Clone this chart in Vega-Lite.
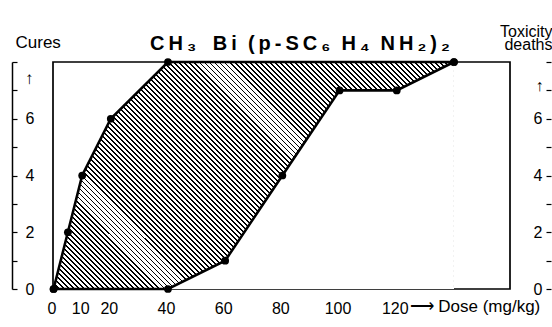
{
"$schema": "https://vega.github.io/schema/vega-lite/v6.json",
"width": 457, "height": 227, "autosize": "none",
"padding": {"left": 53, "top": 62, "right": 42, "bottom": 38},
"background": "white",
"title": {"text": "C\u2009H\u2009\u2083\u00a0\u00a0\u00a0B\u2009i\u00a0\u00a0(\u2009p\u2009-\u2009S\u2009C\u2009\u2086\u00a0\u00a0H\u2009\u2084\u00a0\u00a0N\u2009H\u2009\u2082\u2009)\u2009\u2082", "anchor": "start", "frame": "group", "dx": 97, "dy": 41, "fontSize": 20, "fontWeight": "bold", "font": "Liberation Sans", "color": "black", "offset": 10},
"datasets": {
 "cures": [{"dose": 0, "v": 0}, {"dose": 5, "v": 2}, {"dose": 10, "v": 4}, {"dose": 20, "v": 6}, {"dose": 40, "v": 8}, {"dose": 140, "v": 8}],
 "tox": [{"dose": 0, "v": 0}, {"dose": 40, "v": 0}, {"dose": 60, "v": 1}, {"dose": 80, "v": 4}, {"dose": 100, "v": 7}, {"dose": 120, "v": 7}, {"dose": 140, "v": 8}]
},
"encoding": {"x": {"field": "dose", "type": "quantitative", "scale": {"domain": [-0.2, 159.6], "nice": false, "zero": false},
 "axis": {"values": [0, 10, 20, 40, 60, 80, 100, 120], "ticks": false, "domain": false, "grid": false, "labelPadding": 11, "labelOffset": -2, "labelFontSize": 16, "labelFlush": false, "labelOverlap": false, "labelColor": "black",
  "title": "\u27f6\u00a0Dose (mg/kg)", "titleX": 356, "titleY": 17, "titleAlign": "left", "titleBaseline": "middle", "titleFontSize": 17, "titleFontWeight": "normal", "titleColor": "black"}}},
"layer": [
 {"data": {"name": "cures"},
  "mark": {"type": "area", "fill": {"gradient": "linear", "x1": 0, "y1": 1, "x2": 1.1859, "y2": 0.3276, "stops": [
{"offset":0,"color":"#000"},{"offset":0.003,"color":"#000"},{"offset":0.003,"color":"#fff"},{"offset":0.008,"color":"#fff"},
{"offset":0.008,"color":"#000"},{"offset":0.011,"color":"#000"},{"offset":0.011,"color":"#fff"},{"offset":0.016,"color":"#fff"},
{"offset":0.016,"color":"#000"},{"offset":0.019,"color":"#000"},{"offset":0.019,"color":"#fff"},{"offset":0.024,"color":"#fff"},
{"offset":0.024,"color":"#000"},{"offset":0.027,"color":"#000"},{"offset":0.027,"color":"#fff"},{"offset":0.032,"color":"#fff"},
{"offset":0.032,"color":"#000"},{"offset":0.035,"color":"#000"},{"offset":0.035,"color":"#fff"},{"offset":0.04,"color":"#fff"},
{"offset":0.04,"color":"#000"},{"offset":0.043,"color":"#000"},{"offset":0.043,"color":"#fff"},{"offset":0.048,"color":"#fff"},
{"offset":0.048,"color":"#000"},{"offset":0.051,"color":"#000"},{"offset":0.051,"color":"#fff"},{"offset":0.056,"color":"#fff"},
{"offset":0.056,"color":"#000"},{"offset":0.059,"color":"#000"},{"offset":0.059,"color":"#fff"},{"offset":0.064,"color":"#fff"},
{"offset":0.064,"color":"#000"},{"offset":0.067,"color":"#000"},{"offset":0.067,"color":"#fff"},{"offset":0.072,"color":"#fff"},
{"offset":0.072,"color":"#000"},{"offset":0.075,"color":"#000"},{"offset":0.075,"color":"#fff"},{"offset":0.08,"color":"#fff"},
{"offset":0.08,"color":"#000"},{"offset":0.083,"color":"#000"},{"offset":0.083,"color":"#fff"},{"offset":0.088,"color":"#fff"},
{"offset":0.088,"color":"#000"},{"offset":0.091,"color":"#000"},{"offset":0.091,"color":"#fff"},{"offset":0.096,"color":"#fff"},
{"offset":0.096,"color":"#000"},{"offset":0.099,"color":"#000"},{"offset":0.099,"color":"#fff"},{"offset":0.104,"color":"#fff"},
{"offset":0.104,"color":"#000"},{"offset":0.107,"color":"#000"},{"offset":0.107,"color":"#fff"},{"offset":0.112,"color":"#fff"},
{"offset":0.112,"color":"#000"},{"offset":0.115,"color":"#000"},{"offset":0.115,"color":"#fff"},{"offset":0.12,"color":"#fff"},
{"offset":0.12,"color":"#000"},{"offset":0.123,"color":"#000"},{"offset":0.123,"color":"#fff"},{"offset":0.128,"color":"#fff"},
{"offset":0.128,"color":"#000"},{"offset":0.131,"color":"#000"},{"offset":0.131,"color":"#fff"},{"offset":0.136,"color":"#fff"},
{"offset":0.136,"color":"#000"},{"offset":0.139,"color":"#000"},{"offset":0.139,"color":"#fff"},{"offset":0.144,"color":"#fff"},
{"offset":0.144,"color":"#000"},{"offset":0.147,"color":"#000"},{"offset":0.147,"color":"#fff"},{"offset":0.152,"color":"#fff"},
{"offset":0.152,"color":"#000"},{"offset":0.155,"color":"#000"},{"offset":0.155,"color":"#fff"},{"offset":0.16,"color":"#fff"},
{"offset":0.16,"color":"#000"},{"offset":0.163,"color":"#000"},{"offset":0.163,"color":"#fff"},{"offset":0.168,"color":"#fff"},
{"offset":0.168,"color":"#000"},{"offset":0.171,"color":"#000"},{"offset":0.171,"color":"#fff"},{"offset":0.176,"color":"#fff"},
{"offset":0.176,"color":"#000"},{"offset":0.179,"color":"#000"},{"offset":0.179,"color":"#fff"},{"offset":0.184,"color":"#fff"},
{"offset":0.184,"color":"#000"},{"offset":0.187,"color":"#000"},{"offset":0.187,"color":"#fff"},{"offset":0.192,"color":"#fff"},
{"offset":0.192,"color":"#000"},{"offset":0.195,"color":"#000"},{"offset":0.195,"color":"#fff"},{"offset":0.2,"color":"#fff"},
{"offset":0.2,"color":"#000"},{"offset":0.203,"color":"#000"},{"offset":0.203,"color":"#fff"},{"offset":0.208,"color":"#fff"},
{"offset":0.208,"color":"#000"},{"offset":0.211,"color":"#000"},{"offset":0.211,"color":"#fff"},{"offset":0.216,"color":"#fff"},
{"offset":0.216,"color":"#000"},{"offset":0.219,"color":"#000"},{"offset":0.219,"color":"#fff"},{"offset":0.224,"color":"#fff"},
{"offset":0.224,"color":"#000"},{"offset":0.227,"color":"#000"},{"offset":0.227,"color":"#fff"},{"offset":0.232,"color":"#fff"},
{"offset":0.232,"color":"#000"},{"offset":0.235,"color":"#000"},{"offset":0.235,"color":"#fff"},{"offset":0.24,"color":"#fff"},
{"offset":0.24,"color":"#000"},{"offset":0.243,"color":"#000"},{"offset":0.243,"color":"#fff"},{"offset":0.248,"color":"#fff"},
{"offset":0.248,"color":"#000"},{"offset":0.251,"color":"#000"},{"offset":0.251,"color":"#fff"},{"offset":0.256,"color":"#fff"},
{"offset":0.256,"color":"#000"},{"offset":0.259,"color":"#000"},{"offset":0.259,"color":"#fff"},{"offset":0.264,"color":"#fff"},
{"offset":0.264,"color":"#000"},{"offset":0.267,"color":"#000"},{"offset":0.267,"color":"#fff"},{"offset":0.272,"color":"#fff"},
{"offset":0.272,"color":"#000"},{"offset":0.275,"color":"#000"},{"offset":0.275,"color":"#fff"},{"offset":0.28,"color":"#fff"},
{"offset":0.28,"color":"#000"},{"offset":0.283,"color":"#000"},{"offset":0.283,"color":"#fff"},{"offset":0.288,"color":"#fff"},
{"offset":0.288,"color":"#000"},{"offset":0.291,"color":"#000"},{"offset":0.291,"color":"#fff"},{"offset":0.296,"color":"#fff"},
{"offset":0.296,"color":"#000"},{"offset":0.299,"color":"#000"},{"offset":0.299,"color":"#fff"},{"offset":0.304,"color":"#fff"},
{"offset":0.304,"color":"#000"},{"offset":0.307,"color":"#000"},{"offset":0.307,"color":"#fff"},{"offset":0.312,"color":"#fff"},
{"offset":0.312,"color":"#000"},{"offset":0.315,"color":"#000"},{"offset":0.315,"color":"#fff"},{"offset":0.32,"color":"#fff"},
{"offset":0.32,"color":"#000"},{"offset":0.323,"color":"#000"},{"offset":0.323,"color":"#fff"},{"offset":0.328,"color":"#fff"},
{"offset":0.328,"color":"#000"},{"offset":0.331,"color":"#000"},{"offset":0.331,"color":"#fff"},{"offset":0.336,"color":"#fff"},
{"offset":0.336,"color":"#000"},{"offset":0.339,"color":"#000"},{"offset":0.339,"color":"#fff"},{"offset":0.344,"color":"#fff"},
{"offset":0.344,"color":"#000"},{"offset":0.347,"color":"#000"},{"offset":0.347,"color":"#fff"},{"offset":0.352,"color":"#fff"},
{"offset":0.352,"color":"#000"},{"offset":0.355,"color":"#000"},{"offset":0.355,"color":"#fff"},{"offset":0.36,"color":"#fff"},
{"offset":0.36,"color":"#000"},{"offset":0.363,"color":"#000"},{"offset":0.363,"color":"#fff"},{"offset":0.368,"color":"#fff"},
{"offset":0.368,"color":"#000"},{"offset":0.371,"color":"#000"},{"offset":0.371,"color":"#fff"},{"offset":0.376,"color":"#fff"},
{"offset":0.376,"color":"#000"},{"offset":0.379,"color":"#000"},{"offset":0.379,"color":"#fff"},{"offset":0.384,"color":"#fff"},
{"offset":0.384,"color":"#000"},{"offset":0.387,"color":"#000"},{"offset":0.387,"color":"#fff"},{"offset":0.392,"color":"#fff"},
{"offset":0.392,"color":"#000"},{"offset":0.395,"color":"#000"},{"offset":0.395,"color":"#fff"},{"offset":0.4,"color":"#fff"},
{"offset":0.4,"color":"#000"},{"offset":0.403,"color":"#000"},{"offset":0.403,"color":"#fff"},{"offset":0.408,"color":"#fff"},
{"offset":0.408,"color":"#000"},{"offset":0.411,"color":"#000"},{"offset":0.411,"color":"#fff"},{"offset":0.416,"color":"#fff"},
{"offset":0.416,"color":"#000"},{"offset":0.419,"color":"#000"},{"offset":0.419,"color":"#fff"},{"offset":0.424,"color":"#fff"},
{"offset":0.424,"color":"#000"},{"offset":0.427,"color":"#000"},{"offset":0.427,"color":"#fff"},{"offset":0.432,"color":"#fff"},
{"offset":0.432,"color":"#000"},{"offset":0.435,"color":"#000"},{"offset":0.435,"color":"#fff"},{"offset":0.44,"color":"#fff"},
{"offset":0.44,"color":"#000"},{"offset":0.443,"color":"#000"},{"offset":0.443,"color":"#fff"},{"offset":0.448,"color":"#fff"},
{"offset":0.448,"color":"#000"},{"offset":0.451,"color":"#000"},{"offset":0.451,"color":"#fff"},{"offset":0.456,"color":"#fff"},
{"offset":0.456,"color":"#000"},{"offset":0.459,"color":"#000"},{"offset":0.459,"color":"#fff"},{"offset":0.464,"color":"#fff"},
{"offset":0.464,"color":"#000"},{"offset":0.467,"color":"#000"},{"offset":0.467,"color":"#fff"},{"offset":0.472,"color":"#fff"},
{"offset":0.472,"color":"#000"},{"offset":0.475,"color":"#000"},{"offset":0.475,"color":"#fff"},{"offset":0.48,"color":"#fff"},
{"offset":0.48,"color":"#000"},{"offset":0.483,"color":"#000"},{"offset":0.483,"color":"#fff"},{"offset":0.488,"color":"#fff"},
{"offset":0.488,"color":"#000"},{"offset":0.491,"color":"#000"},{"offset":0.491,"color":"#fff"},{"offset":0.496,"color":"#fff"},
{"offset":0.496,"color":"#000"},{"offset":0.499,"color":"#000"},{"offset":0.499,"color":"#fff"},{"offset":0.504,"color":"#fff"},
{"offset":0.504,"color":"#000"},{"offset":0.507,"color":"#000"},{"offset":0.507,"color":"#fff"},{"offset":0.512,"color":"#fff"},
{"offset":0.512,"color":"#000"},{"offset":0.515,"color":"#000"},{"offset":0.515,"color":"#fff"},{"offset":0.52,"color":"#fff"},
{"offset":0.52,"color":"#000"},{"offset":0.523,"color":"#000"},{"offset":0.523,"color":"#fff"},{"offset":0.528,"color":"#fff"},
{"offset":0.528,"color":"#000"},{"offset":0.531,"color":"#000"},{"offset":0.531,"color":"#fff"},{"offset":0.536,"color":"#fff"},
{"offset":0.536,"color":"#000"},{"offset":0.539,"color":"#000"},{"offset":0.539,"color":"#fff"},{"offset":0.544,"color":"#fff"},
{"offset":0.544,"color":"#000"},{"offset":0.547,"color":"#000"},{"offset":0.547,"color":"#fff"},{"offset":0.552,"color":"#fff"},
{"offset":0.552,"color":"#000"},{"offset":0.555,"color":"#000"},{"offset":0.555,"color":"#fff"},{"offset":0.56,"color":"#fff"},
{"offset":0.56,"color":"#000"},{"offset":0.563,"color":"#000"},{"offset":0.563,"color":"#fff"},{"offset":0.568,"color":"#fff"},
{"offset":0.568,"color":"#000"},{"offset":0.571,"color":"#000"},{"offset":0.571,"color":"#fff"},{"offset":0.576,"color":"#fff"},
{"offset":0.576,"color":"#000"},{"offset":0.579,"color":"#000"},{"offset":0.579,"color":"#fff"},{"offset":0.584,"color":"#fff"},
{"offset":0.584,"color":"#000"},{"offset":0.587,"color":"#000"},{"offset":0.587,"color":"#fff"},{"offset":0.592,"color":"#fff"},
{"offset":0.592,"color":"#000"},{"offset":0.595,"color":"#000"},{"offset":0.595,"color":"#fff"},{"offset":0.6,"color":"#fff"},
{"offset":0.6,"color":"#000"},{"offset":0.603,"color":"#000"},{"offset":0.603,"color":"#fff"},{"offset":0.608,"color":"#fff"},
{"offset":0.608,"color":"#000"},{"offset":0.611,"color":"#000"},{"offset":0.611,"color":"#fff"},{"offset":0.616,"color":"#fff"},
{"offset":0.616,"color":"#000"},{"offset":0.619,"color":"#000"},{"offset":0.619,"color":"#fff"},{"offset":0.624,"color":"#fff"},
{"offset":0.624,"color":"#000"},{"offset":0.627,"color":"#000"},{"offset":0.627,"color":"#fff"},{"offset":0.632,"color":"#fff"},
{"offset":0.632,"color":"#000"},{"offset":0.635,"color":"#000"},{"offset":0.635,"color":"#fff"},{"offset":0.64,"color":"#fff"},
{"offset":0.64,"color":"#000"},{"offset":0.643,"color":"#000"},{"offset":0.643,"color":"#fff"},{"offset":0.648,"color":"#fff"},
{"offset":0.648,"color":"#000"},{"offset":0.651,"color":"#000"},{"offset":0.651,"color":"#fff"},{"offset":0.656,"color":"#fff"},
{"offset":0.656,"color":"#000"},{"offset":0.659,"color":"#000"},{"offset":0.659,"color":"#fff"},{"offset":0.664,"color":"#fff"},
{"offset":0.664,"color":"#000"},{"offset":0.667,"color":"#000"},{"offset":0.667,"color":"#fff"},{"offset":0.672,"color":"#fff"},
{"offset":0.672,"color":"#000"},{"offset":0.675,"color":"#000"},{"offset":0.675,"color":"#fff"},{"offset":0.68,"color":"#fff"},
{"offset":0.68,"color":"#000"},{"offset":0.683,"color":"#000"},{"offset":0.683,"color":"#fff"},{"offset":0.688,"color":"#fff"},
{"offset":0.688,"color":"#000"},{"offset":0.691,"color":"#000"},{"offset":0.691,"color":"#fff"},{"offset":0.696,"color":"#fff"},
{"offset":0.696,"color":"#000"},{"offset":0.699,"color":"#000"},{"offset":0.699,"color":"#fff"},{"offset":0.704,"color":"#fff"},
{"offset":0.704,"color":"#000"},{"offset":0.707,"color":"#000"},{"offset":0.707,"color":"#fff"},{"offset":0.712,"color":"#fff"},
{"offset":0.712,"color":"#000"},{"offset":0.715,"color":"#000"},{"offset":0.715,"color":"#fff"},{"offset":0.72,"color":"#fff"},
{"offset":0.72,"color":"#000"},{"offset":0.723,"color":"#000"},{"offset":0.723,"color":"#fff"},{"offset":0.728,"color":"#fff"},
{"offset":0.728,"color":"#000"},{"offset":0.731,"color":"#000"},{"offset":0.731,"color":"#fff"},{"offset":0.736,"color":"#fff"},
{"offset":0.736,"color":"#000"},{"offset":0.739,"color":"#000"},{"offset":0.739,"color":"#fff"},{"offset":0.744,"color":"#fff"},
{"offset":0.744,"color":"#000"},{"offset":0.747,"color":"#000"},{"offset":0.747,"color":"#fff"},{"offset":0.752,"color":"#fff"},
{"offset":0.752,"color":"#000"},{"offset":0.755,"color":"#000"},{"offset":0.755,"color":"#fff"},{"offset":0.76,"color":"#fff"},
{"offset":0.76,"color":"#000"},{"offset":0.763,"color":"#000"},{"offset":0.763,"color":"#fff"},{"offset":0.768,"color":"#fff"},
{"offset":0.768,"color":"#000"},{"offset":0.771,"color":"#000"},{"offset":0.771,"color":"#fff"},{"offset":0.776,"color":"#fff"},
{"offset":0.776,"color":"#000"},{"offset":0.779,"color":"#000"},{"offset":0.779,"color":"#fff"},{"offset":0.784,"color":"#fff"},
{"offset":0.784,"color":"#000"},{"offset":0.787,"color":"#000"},{"offset":0.787,"color":"#fff"},{"offset":0.792,"color":"#fff"},
{"offset":0.792,"color":"#000"},{"offset":0.795,"color":"#000"},{"offset":0.795,"color":"#fff"},{"offset":0.8,"color":"#fff"},
{"offset":0.8,"color":"#000"},{"offset":0.803,"color":"#000"},{"offset":0.803,"color":"#fff"},{"offset":0.808,"color":"#fff"},
{"offset":0.808,"color":"#000"},{"offset":0.811,"color":"#000"},{"offset":0.811,"color":"#fff"},{"offset":0.816,"color":"#fff"},
{"offset":0.816,"color":"#000"},{"offset":0.819,"color":"#000"},{"offset":0.819,"color":"#fff"},{"offset":0.824,"color":"#fff"},
{"offset":0.824,"color":"#000"},{"offset":0.827,"color":"#000"},{"offset":0.827,"color":"#fff"},{"offset":0.832,"color":"#fff"},
{"offset":0.832,"color":"#000"},{"offset":0.835,"color":"#000"},{"offset":0.835,"color":"#fff"},{"offset":0.84,"color":"#fff"},
{"offset":0.84,"color":"#000"},{"offset":0.843,"color":"#000"},{"offset":0.843,"color":"#fff"},{"offset":0.848,"color":"#fff"},
{"offset":0.848,"color":"#000"},{"offset":0.851,"color":"#000"},{"offset":0.851,"color":"#fff"},{"offset":0.856,"color":"#fff"},
{"offset":0.856,"color":"#000"},{"offset":0.859,"color":"#000"},{"offset":0.859,"color":"#fff"},{"offset":0.864,"color":"#fff"},
{"offset":0.864,"color":"#000"},{"offset":0.867,"color":"#000"},{"offset":0.867,"color":"#fff"},{"offset":0.872,"color":"#fff"},
{"offset":0.872,"color":"#000"},{"offset":0.875,"color":"#000"},{"offset":0.875,"color":"#fff"},{"offset":0.88,"color":"#fff"},
{"offset":0.88,"color":"#000"},{"offset":0.883,"color":"#000"},{"offset":0.883,"color":"#fff"},{"offset":0.888,"color":"#fff"},
{"offset":0.888,"color":"#000"},{"offset":0.891,"color":"#000"},{"offset":0.891,"color":"#fff"},{"offset":0.896,"color":"#fff"},
{"offset":0.896,"color":"#000"},{"offset":0.899,"color":"#000"},{"offset":0.899,"color":"#fff"},{"offset":0.904,"color":"#fff"},
{"offset":0.904,"color":"#000"},{"offset":0.907,"color":"#000"},{"offset":0.907,"color":"#fff"},{"offset":0.912,"color":"#fff"},
{"offset":0.912,"color":"#000"},{"offset":0.915,"color":"#000"},{"offset":0.915,"color":"#fff"},{"offset":0.92,"color":"#fff"},
{"offset":0.92,"color":"#000"},{"offset":0.923,"color":"#000"},{"offset":0.923,"color":"#fff"},{"offset":0.928,"color":"#fff"},
{"offset":0.928,"color":"#000"},{"offset":0.931,"color":"#000"},{"offset":0.931,"color":"#fff"},{"offset":0.936,"color":"#fff"},
{"offset":0.936,"color":"#000"},{"offset":0.939,"color":"#000"},{"offset":0.939,"color":"#fff"},{"offset":0.944,"color":"#fff"},
{"offset":0.944,"color":"#000"},{"offset":0.947,"color":"#000"},{"offset":0.947,"color":"#fff"},{"offset":0.952,"color":"#fff"},
{"offset":0.952,"color":"#000"},{"offset":0.955,"color":"#000"},{"offset":0.955,"color":"#fff"},{"offset":0.96,"color":"#fff"},
{"offset":0.96,"color":"#000"},{"offset":0.963,"color":"#000"},{"offset":0.963,"color":"#fff"},{"offset":0.968,"color":"#fff"},
{"offset":0.968,"color":"#000"},{"offset":0.971,"color":"#000"},{"offset":0.971,"color":"#fff"},{"offset":0.976,"color":"#fff"},
{"offset":0.976,"color":"#000"},{"offset":0.979,"color":"#000"},{"offset":0.979,"color":"#fff"},{"offset":0.984,"color":"#fff"},
{"offset":0.984,"color":"#000"},{"offset":0.987,"color":"#000"},{"offset":0.987,"color":"#fff"},{"offset":0.992,"color":"#fff"},
{"offset":0.992,"color":"#000"},{"offset":0.995,"color":"#000"},{"offset":0.995,"color":"#fff"},{"offset":1,"color":"#fff"}
  ]}},
  "encoding": {"y": {"field": "v", "type": "quantitative", "scale": {"domain": [0, 8], "nice": false},
   "axis": {"orient": "left", "offset": 41, "values": [0, 1, 2, 3, 4, 5, 6, 7, 8], "labelExpr": "datum.value % 2 === 0 && datum.value < 8 ? datum.label : ''", "tickSize": -5, "tickColor": "black", "tickWidth": 1.2, "labelPadding": -8, "labelAlign": "left", "labelBaseline": "middle", "labelFontSize": 16, "labelColor": "black", "labelFlush": false, "labelOverlap": false, "domain": true, "domainColor": "black", "domainWidth": 1.5, "grid": false,
    "title": ["Cures", "\u200b\u00a0", "\u200b\u00a0\u00a0\u2191"], "titleAngle": 0, "titleX": 3, "titleY": -15, "titleAlign": "left", "titleBaseline": "alphabetic", "titleFontSize": 17, "titleFontWeight": "normal", "titleLineHeight": 18, "titleColor": "black"}}}},
 {"data": {"name": "tox"},
  "mark": {"type": "area", "fill": "white", "opacity": 1},
  "encoding": {"y": {"field": "v", "type": "quantitative", "scale": {"domain": [0, 8], "nice": false}, "axis": null}}},
 {"data": {"name": "cures"},
  "mark": {"type": "line", "color": "black", "strokeWidth": 2.6, "point": {"filled": true, "size": 60, "color": "black"}},
  "encoding": {"y": {"field": "v", "type": "quantitative", "scale": {"domain": [0, 8], "nice": false}, "axis": null}}},
 {"data": {"name": "tox"},
  "mark": {"type": "line", "color": "black", "strokeWidth": 2.6, "point": {"filled": true, "size": 60, "color": "black"}},
  "encoding": {"y": {"field": "v", "type": "quantitative", "scale": {"domain": [0, 8], "nice": false},
   "axis": {"orient": "right", "offset": 41, "values": [0, 1, 2, 3, 4, 5, 6, 7, 8], "labelExpr": "datum.value % 2 === 0 && datum.value < 8 ? datum.label : ''", "tickSize": -5, "tickColor": "black", "tickWidth": 1.2, "labelPadding": -4, "labelAlign": "right", "labelBaseline": "middle", "labelFontSize": 16, "labelColor": "black", "labelFlush": false, "labelOverlap": false, "domain": false, "grid": false,
    "title": ["Toxicity", "deaths", "\u200b\u00a0", "\u200b\u00a0", "\u2191\u00a0\u00a0\u200b"], "titleAngle": 0, "titleX": 1, "titleY": -26, "titleAlign": "right", "titleBaseline": "alphabetic", "titleFontSize": 16, "titleFontWeight": "normal", "titleLineHeight": 13.5, "titleColor": "black"}}}}
],
"resolve": {"scale": {"y": "independent"}},
"config": {"font": "Liberation Sans", "view": {"stroke": "black", "strokeWidth": 1.7}, "axis": {"grid": false}}
}
